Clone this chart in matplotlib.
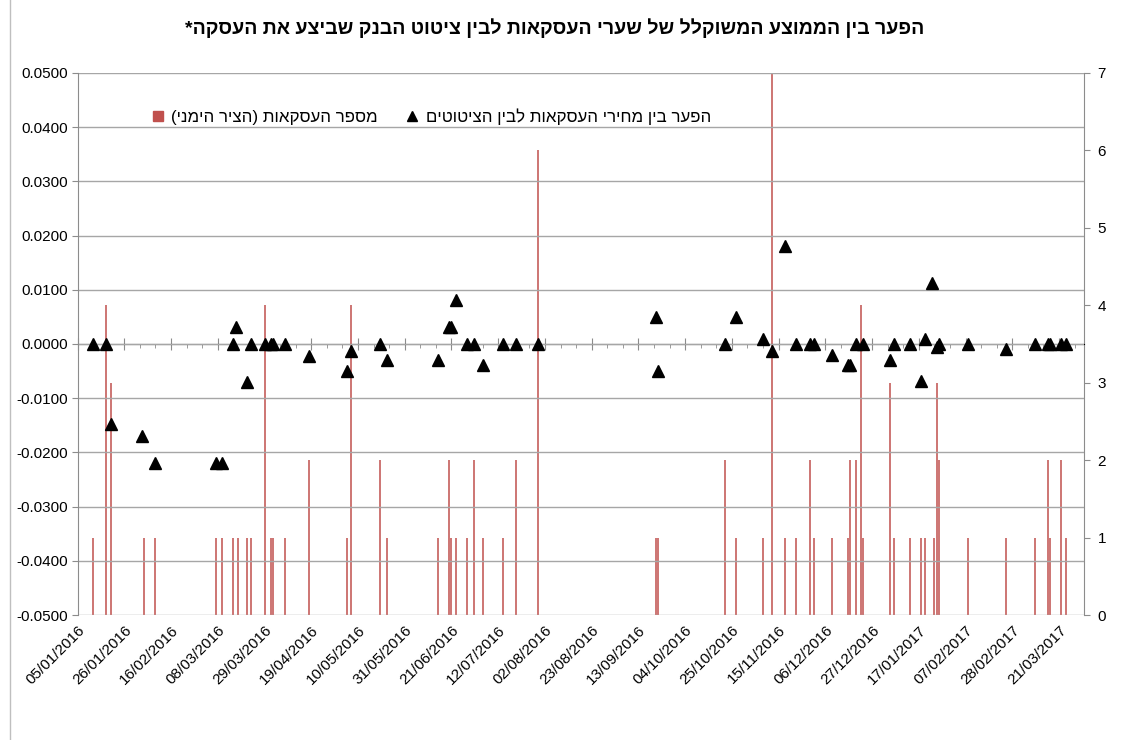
import pandas as pd
import matplotlib
matplotlib.use("Agg")
import matplotlib.pyplot as plt
import matplotlib.dates as mdates
from matplotlib.ticker import FixedLocator, NullFormatter, FormatStrFormatter
from matplotlib.lines import Line2D

plt.rcParams['font.family'] = ['Liberation Sans', 'DejaVu Sans']

# spread between trade prices and quotes (left axis)
spread_dates = [
    "2016-01-12", "2016-01-18", "2016-01-20", "2016-02-03", "2016-02-09",
    "2016-03-07", "2016-03-10", "2016-03-15", "2016-03-16", "2016-03-21",
    "2016-03-23", "2016-03-29", "2016-04-01", "2016-04-02", "2016-04-07",
    "2016-04-18", "2016-05-05", "2016-05-07", "2016-05-20", "2016-05-23",
    "2016-06-15", "2016-06-20", "2016-06-21", "2016-06-23", "2016-06-28",
    "2016-07-01", "2016-07-05", "2016-07-14", "2016-07-20", "2016-07-30",
    "2016-09-21", "2016-09-22", "2016-10-22", "2016-10-27", "2016-11-08",
    "2016-11-12", "2016-11-18", "2016-11-23", "2016-11-29", "2016-12-01",
    "2016-12-09", "2016-12-16", "2016-12-17", "2016-12-20", "2016-12-23",
    "2017-01-04", "2017-01-06", "2017-01-13", "2017-01-18", "2017-01-20",
    "2017-01-23", "2017-01-25", "2017-01-26", "2017-02-08", "2017-02-25",
    "2017-03-10", "2017-03-16", "2017-03-17", "2017-03-22", "2017-03-24",
]
spread_values = [
    0.0, 0.0, -0.0148, -0.0170, -0.0219,
    -0.0219, -0.0219, 0.0, 0.0031, -0.0070,
    0.0, 0.0, 0.0, 0.0, 0.0,
    -0.0023, -0.0050, -0.0013, 0.0, -0.0030,
    -0.0030, 0.0031, 0.0031, 0.0081, 0.0,
    0.0, -0.0039, 0.0, 0.0, 0.0,
    0.0050, -0.0050, 0.0, 0.0050, 0.0010,
    -0.0013, 0.0181, 0.0, 0.0, 0.0,
    -0.0020, -0.0039, -0.0039, 0.0, 0.0,
    -0.0030, 0.0, 0.0, -0.0068, 0.0010,
    0.0112, -0.0006, 0.0, 0.0, -0.0009,
    0.0, 0.0, 0.0, 0.0, 0.0,
]

# number of trades (right axis)
trade_dates = [
    "2016-01-12", "2016-01-18", "2016-01-20", "2016-02-04", "2016-02-09",
    "2016-03-07", "2016-03-10", "2016-03-15", "2016-03-17", "2016-03-21",
    "2016-03-23", "2016-03-29", "2016-04-01", "2016-04-02", "2016-04-07",
    "2016-04-18", "2016-05-05", "2016-05-07", "2016-05-20", "2016-05-23",
    "2016-06-15", "2016-06-20", "2016-06-21", "2016-06-23", "2016-06-28",
    "2016-07-01", "2016-07-05", "2016-07-14", "2016-07-20", "2016-07-30",
    "2016-09-21", "2016-09-22", "2016-10-22", "2016-10-27", "2016-11-08",
    "2016-11-12", "2016-11-18", "2016-11-23", "2016-11-29", "2016-12-01",
    "2016-12-09", "2016-12-16", "2016-12-17", "2016-12-20", "2016-12-22",
    "2016-12-23", "2017-01-04", "2017-01-06", "2017-01-13", "2017-01-18",
    "2017-01-20", "2017-01-24", "2017-01-25", "2017-01-26", "2017-02-08",
    "2017-02-25", "2017-03-10", "2017-03-16", "2017-03-17", "2017-03-22",
    "2017-03-24",
]
trade_counts = [
    1, 4, 3, 1, 1,
    1, 1, 1, 1, 1,
    1, 4, 1, 1, 1,
    2, 1, 4, 2, 1,
    1, 2, 1, 1, 1,
    2, 1, 1, 2, 6,
    1, 1, 2, 1, 1,
    7, 1, 1, 2, 1,
    1, 1, 2, 2, 4,
    1, 3, 1, 1, 1,
    1, 1, 3, 2, 1,
    1, 1, 2, 1, 2,
    1,
]

# tick dates for the date axis
major_ticks = pd.date_range("2016-01-05", periods=22, freq="21D")
minor_ticks = pd.date_range("2016-01-05", "2017-04-01", freq="7D")


def rtl(s):
    # matplotlib has no bidi support: flip the string for display
    return s[::-1].translate(str.maketrans("()", ")("))


title = "הפער בין הממוצע המשוקלל של שערי העסקאות לבין ציטוט הבנק שביצע את העסקה*"
label_trades = "מספר העסקאות (הציר הימני)"
label_spread = "הפער בין מחירי העסקאות לבין הציטוטים"

red = "#c0504d"
gray = "#8c8c8c"
grid_gray = "#a6a6a6"

fig = plt.figure(figsize=(11.29, 7.40), dpi=100)
ax = fig.add_axes([0.0687, 0.1689, 0.8910, 0.7325])
ax2 = ax.twinx()
ax2.set_zorder(ax.get_zorder() - 1)
ax.patch.set_visible(False)

sd = pd.to_datetime(spread_dates)
td = pd.to_datetime(trade_dates)

# bars (right axis)
ax2.vlines(td, 0, trade_counts, color=red, lw=1.1)
ax2.set_ylim(0, 7)
ax2.set_yticks(range(0, 8))

# triangles (left axis)
ax.plot(sd, spread_values, linestyle="none", marker="^", color="black", markersize=8)
ax.set_ylim(-0.05, 0.05)
ax.set_yticks([i / 100 for i in range(-5, 6)])
ax.yaxis.set_major_formatter(FormatStrFormatter("%.4f"))
ax.grid(axis="y", color=grid_gray, lw=1)
ax.set_axisbelow(True)

ax.set_xlim(pd.Timestamp("2016-01-05"), pd.Timestamp("2017-04-01"))

# labels at the bottom, no tick marks there
ax.xaxis.set_major_locator(FixedLocator(mdates.date2num(major_ticks)))
ax.xaxis.set_major_formatter(mdates.DateFormatter("%d/%m/%Y"))
ax.tick_params(axis="x", length=0, pad=6, labelsize=11)
for lbl in ax.get_xticklabels():
    lbl.set_rotation(45)
    lbl.set_ha("right")
    lbl.set_va("top")
    lbl.set_rotation_mode("anchor")

# axis line with tick marks at value zero
sec = ax.secondary_xaxis(0.5)
sec.xaxis.set_major_locator(FixedLocator(mdates.date2num(major_ticks)))
sec.xaxis.set_minor_locator(FixedLocator(mdates.date2num(minor_ticks)))
sec.xaxis.set_major_formatter(NullFormatter())
sec.spines["bottom"].set_color(gray)
sec.spines["bottom"].set_linewidth(1.3)
sec.tick_params(which="major", direction="inout", length=8, color=gray)
sec.tick_params(which="minor", direction="in", length=3, color=gray)

for a in (ax, ax2):
    a.spines["top"].set_visible(False)
    a.spines["bottom"].set_visible(False)
    a.spines["left"].set_color(gray)
    a.spines["right"].set_color(gray)
ax.spines["right"].set_visible(False)
ax2.spines["left"].set_visible(False)
ax.tick_params(axis="y", length=4, color=gray, labelsize=11, pad=3)
ax2.tick_params(axis="y", length=4, color=gray, labelsize=11, pad=6)

handles = [
    Line2D([], [], linestyle="none", marker="s", color=red, markersize=7),
    Line2D([], [], linestyle="none", marker="^", color="black", markersize=7),
]
ax.legend(handles, [rtl(label_trades), rtl(label_spread)], ncol=2,
          loc="center left", bbox_to_anchor=(0.058, 0.919), frameon=False,
          fontsize=12.2, handlelength=0.8, handletextpad=0.4, columnspacing=1.6)

fig.text(555 / 1129, 1 - 28 / 740, rtl(title), ha="center", va="center",
         fontsize=14, fontweight="bold")

fig.add_artist(Line2D([9.5 / 1129, 9.5 / 1129], [0, 1], color="#bfbfbf", lw=1))

fig.savefig("out.png", dpi=100)
